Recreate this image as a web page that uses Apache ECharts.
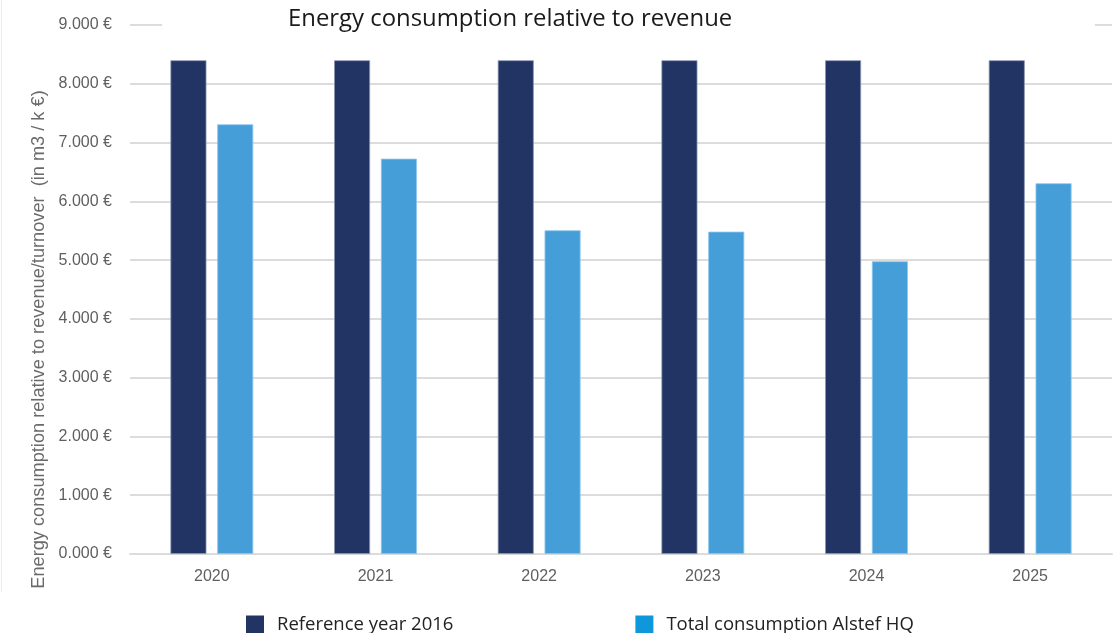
<!DOCTYPE html>
<html>
<head>
<meta charset="utf-8">
<script src="https://cdn.jsdelivr.net/npm/echarts@6/dist/echarts.min.js"></script>
<style>
    html, body { margin: 0; padding: 0; background: #fff; }
    #chart { width: 1114px; height: 633px; }
</style>
</head>
<body>
<div id="chart"></div>
<script>
// data (in m3 / k€)
const years = ['2020', '2021', '2022', '2023', '2024', '2025']
const referenceValues = [8.4, 8.4, 8.4, 8.4, 8.4, 8.4]
const totalValues = [7.31, 6.725, 5.507, 5.484, 4.98, 6.307]
const yTicks = [0, 1, 2, 3, 4, 5, 6, 7, 8, 9]

const seriesNames = ['Reference year 2016', 'Total consumption Alstef HQ']
const darkBlue = '#213463'
const lightBlue = '#459ed8'

const chart = echarts.init(document.getElementById('chart'))

const option = {
    animation: false,
    backgroundColor: '#fff',
    title: {
        text: 'Energy consumption relative to revenue',
        left: 283,
        top: 2,
        textStyle: {
            fontFamily: 'Open Sans',
            fontWeight: 'normal',
            fontSize: 23.9,
            color: '#1a1a1a',
        },
    },
    // white block behind the title hides most of the top grid line
    graphic: [
        {
            type: 'rect',
            z: 1,
            shape: { x: 162, y: 0, width: 933, height: 40 },
            style: { fill: '#fff' },
        },
        {
            type: 'line',
            z: 1,
            shape: { x1: 1.5, y1: 0, x2: 1.5, y2: 592 },
            style: { stroke: '#ececec', lineWidth: 1 },
        },
    ],
    legend: {
        bottom: -6,
        left: 241,
        itemWidth: 18,
        itemHeight: 18,
        itemGap: 182,
        icon: 'rect',
        itemStyle: { borderWidth: 0 },
        textStyle: {
            fontFamily: 'Open Sans',
            fontSize: 18.5,
            color: '#222',
            padding: [0, 0, 0, 8],
        },
        data: [
            { name: seriesNames[0], itemStyle: { color: darkBlue, borderWidth: 0 } },
            { name: seriesNames[1], itemStyle: { color: '#0f97db', borderWidth: 0 } },
        ],
    },
    grid: {
        left: 130,
        right: 2,
        top: 25,
        bottom: 79,
        containLabel: false,
    },
    xAxis: {
        type: 'category',
        data: years,
        axisTick: { show: false },
        axisLine: { lineStyle: { color: '#dcdcdc', width: 2 } },
        axisLabel: {
            color: '#5f5f5f',
            fontFamily: 'Liberation Sans',
            fontSize: 16,
            margin: 15,
        },
    },
    yAxis: {
        type: 'value',
        min: yTicks[0],
        max: yTicks[yTicks.length - 1],
        interval: 1,
        name: 'Energy consumption relative to revenue/turnover  (in m3 / k €)',
        nameLocation: 'middle',
        nameGap: 81,
        nameTextStyle: {
            color: '#6a6a6a',
            fontFamily: 'Liberation Sans',
            fontSize: 18.2,
            padding: [0, 100, 0, 0],
        },
        axisLine: { show: false },
        axisTick: { show: false },
        axisLabel: {
            color: '#5f5f5f',
            fontFamily: 'Liberation Sans',
            fontSize: 16,
            margin: 18,
            formatter: v => v.toFixed(3) + ' €',
        },
        splitLine: { lineStyle: { color: '#dcdcdc', width: 2 } },
    },
    series: [
        {
            name: seriesNames[0],
            type: 'bar',
            data: referenceValues,
            barWidth: 36,
            barGap: '30%',
            itemStyle: {
                color: darkBlue,
                borderColor: '#8a97b2',
                borderWidth: 0.8,
            },
        },
        {
            name: seriesNames[1],
            type: 'bar',
            data: totalValues,
            barWidth: 36,
            itemStyle: {
                color: lightBlue,
                borderColor: '#8cc6ef',
                borderWidth: 0.8,
            },
        },
    ],
}

chart.setOption(option)
</script>
</body>
</html>
